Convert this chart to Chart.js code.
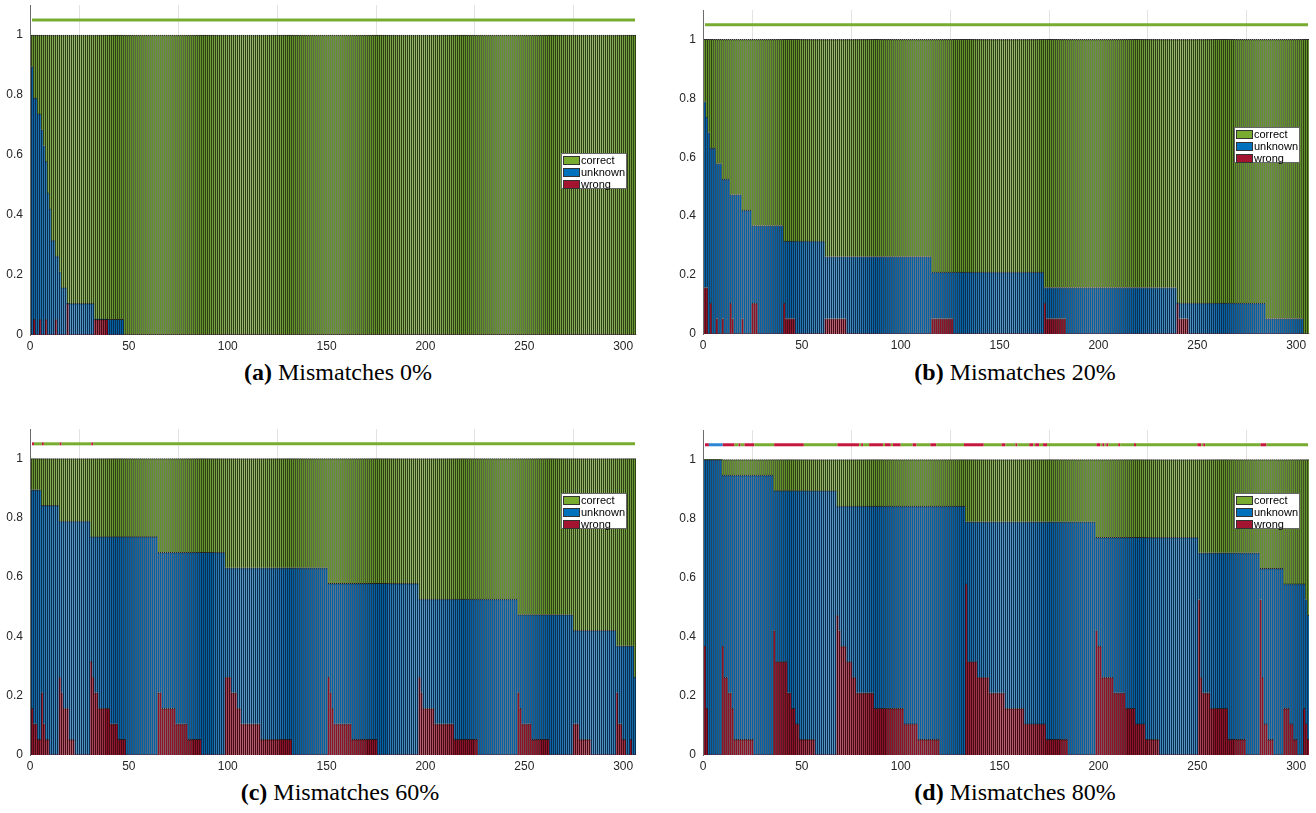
<!DOCTYPE html>
<html><head><meta charset="utf-8">
<script src="https://cdn.jsdelivr.net/npm/chart.js@4.4.1/dist/chart.umd.min.js"></script>
<style>
html,body{margin:0;padding:0;background:#fff;}
body{width:1316px;height:813px;position:relative;overflow:hidden;font-family:"Liberation Sans",Arial,sans-serif;}
.panel{position:absolute;}
.legend{position:absolute;background:#fff;border:1px solid #666;width:64px;height:34px;box-sizing:content-box;font:11px "Liberation Sans",Arial,sans-serif;color:#000;}
.legend .row{height:12px;line-height:12px;white-space:nowrap;display:flex;align-items:center;}
.legend .sw{display:inline-block;width:15px;height:7px;border:1px solid #333;margin:0 1px 0 1px;}
.caption{position:absolute;font-family:"Liberation Serif","Times New Roman",serif;font-size:24px;line-height:24px;color:#000;white-space:nowrap;transform:translateX(-50%);}
.caption b{font-weight:bold;}
</style></head><body>
<script>
// ---------------- DATA (values in units of 1/19) ----------------
const levelsPerUnit = 19;
const barCount = 306;
const seriesNames = ['correct', 'unknown', 'wrong'];
const xTicks = [0, 50, 100, 150, 200, 250, 300];
const yTicks = [0, 0.2, 0.4, 0.6, 0.8, 1];
const stripLevel = 1.05;
const captionTags = ['(a)', '(b)', '(c)', '(d)'];
const captionTexts = ['Mismatches 0%', 'Mismatches 20%', 'Mismatches 60%', 'Mismatches 80%'];

// runs: [number of bars, level]; "nonCorrect" = wrong + unknown (top of blue), "wrong" = red part
const nonCorrectA = [[1,17],[2,15],[2,14],[1,13],[1,12],[1,11],[1,9],[1,8],[2,6],[2,5],[1,4],[3,3],[14,2],[15,1],[259,0]];
const wrongA = [[1,0],[1,1],[2,0],[1,1],[2,0],[1,1],[4,0],[1,1],[5,0],[1,2],[13,0],[7,1],[267,0]];
const stripA = [[306,0]];

const nonCorrectB = [[1,15],[1,14],[1,13],[3,12],[3,11],[4,10],[6,9],[5,8],[16,7],[21,6],[54,5],[57,4],[67,3],[45,2],[19,1],[3,0]];
const wrongB = [[2,3],[1,0],[1,2],[2,0],[1,1],[2,0],[1,1],[3,0],[1,2],[1,1],[4,0],[1,1],[4,0],[3,2],[13,0],[1,2],[5,1],[15,0],[11,1],[43,0],[11,1],[46,0],[1,2],[10,1],[56,0],[1,2],[5,1],[61,0]];
const stripB = [[306,0]];

const nonCorrectC = [[5,17],[9,16],[16,15],[34,14],[34,13],[52,12],[46,11],[50,10],[28,9],[22,8],[9,7],[1,5]];
const wrongC = [[1,3],[2,2],[2,1],[1,4],[1,2],[2,1],[5,0],[1,5],[1,4],[3,3],[3,1],[8,0],[1,6],[1,5],[2,4],[6,3],[4,2],[4,1],[16,0],[2,4],[7,3],[6,2],[7,1],[12,0],[3,5],[3,4],[2,3],[10,2],[16,1],[18,0],[1,5],[1,4],[1,3],[9,2],[13,1],[21,0],[1,5],[1,4],[6,3],[10,2],[12,1],[20,0],[1,4],[1,3],[5,2],[9,1],[12,0],[3,2],[6,1],[13,0],[1,4],[2,2],[2,1],[2,0],[1,1],[2,0]];
const stripC = [[1,1],[4,0],[1,1],[8,0],[1,1],[15,0],[1,1],[275,0]];

const nonCorrectD = [[9,19],[26,18],[32,17],[65,16],[66,15],[52,14],[31,13],[12,12],[11,11],[1,10],[1,9]];
const wrongD = [[1,7],[1,3],[7,0],[1,7],[2,5],[2,4],[1,3],[10,1],[10,0],[1,8],[6,6],[2,4],[2,3],[2,2],[8,1],[11,0],[1,9],[1,8],[3,7],[3,6],[2,5],[9,4],[15,3],[7,2],[11,1],[13,0],[1,11],[5,6],[6,5],[8,4],[10,3],[11,2],[11,1],[14,0],[1,8],[2,7],[6,5],[6,4],[5,3],[5,2],[7,1],[20,0],[1,10],[1,5],[4,4],[9,3],[9,1],[7,0],[1,10],[1,5],[2,2],[3,1],[5,0],[3,3],[2,2],[2,1],[3,0],[1,3],[1,2],[1,1]];
// strip codes: 0 correct(green), 1 wrong(red), 2 unknown(blue)
const stripD = [[2,1],[7,2],[6,1],[2,0],[1,1],[2,0],[5,1],[10,0],[15,1],[17,0],[11,1],[1,0],[1,1],[3,0],[7,1],[1,0],[3,1],[1,0],[4,1],[6,0],[2,1],[7,0],[3,1],[14,0],[10,1],[9,0],[2,1],[5,0],[1,1],[6,0],[2,1],[1,0],[2,1],[2,0],[2,1],[25,0],[2,1],[1,0],[1,1],[1,0],[1,1],[5,0],[1,1],[7,0],[1,1],[31,0],[2,1],[1,0],[1,1],[28,0],[3,1],[22,0]];

// ---------------- STYLE / LAYOUT ----------------
const COLORS = {correct:'#77AC30', unknown:'#0072BD', wrong:'#A2142F'};
// bar face / dark bar-edge shades used inside the plot (thin black edges of ~2px-wide bars)
const FACE = {correct:'#64922A', unknown:'#0562A3', wrong:'#8C122A'};
const EDGE = {correct:'#2D4014', unknown:'#0A2E51', wrong:'#460A14'};
const stripColors = ['#77AC30', '#C4173F', '#2D86D1'];
const categories = Array.from({length: barCount}, (_, i) => i + 1);
const X_MIN = 0, X_MAX = 307, Y_MAX = 1.1;
const AXIS_W = 30;

function expand(runs){ const out = []; runs.forEach(([n, v]) => { for (let i = 0; i < n; i++) out.push(v); }); return out; }

// 2-px period stripe fill (face / edge), phase locked to page columns
function edgePattern(ctx, face, edge, pageLeft){
  const c = document.createElement('canvas'); c.width = 2; c.height = 1;
  const g = c.getContext('2d');
  const odd = pageLeft % 2;
  g.fillStyle = odd ? edge : face; g.fillRect(0, 0, 1, 1);
  g.fillStyle = odd ? face : edge; g.fillRect(1, 0, 1, 1);
  return ctx.createPattern(c, 'repeat');
}

const panels = [
  {nc: nonCorrectA, wr: wrongA, st: stripA, left:0,   top:0,   w:645, h:352, pad:{top:5, right:8, left:0, bottom:0},  xh:17, lg:[561,153],  cap:[338,360]},
  {nc: nonCorrectB, wr: wrongB, st: stripB, left:673, top:0,   w:643, h:352, pad:{top:10,right:6, left:0, bottom:0},  xh:18, lg:[1234,127], cap:[1015,360]},
  {nc: nonCorrectC, wr: wrongC, st: stripC, left:0,   top:420, w:645, h:352, pad:{top:9, right:8, left:0, bottom:0},  xh:17, lg:[561,493],  cap:[340,780]},
  {nc: nonCorrectD, wr: wrongD, st: stripD, left:673, top:420, w:643, h:352, pad:{top:10,right:6, left:0, bottom:0},  xh:17, lg:[1234,493], cap:[1015,780]},
];

const tickFont = {family:'"Liberation Sans", Arial, sans-serif', size:12};

panels.forEach((p, k) => {
  const div = document.createElement('div');
  div.className = 'panel';
  div.style.left = p.left + 'px'; div.style.top = p.top + 'px';
  div.style.width = p.w + 'px'; div.style.height = p.h + 'px';
  const cv = document.createElement('canvas');
  cv.width = p.w; cv.height = p.h;
  cv.style.width = p.w + 'px'; cv.style.height = p.h + 'px';
  div.appendChild(cv);
  document.body.appendChild(div);
  const ctx = cv.getContext('2d');

  const t = expand(p.nc), w = expand(p.wr), s = expand(p.st);
  const wrong = w.map(v => v / levelsPerUnit);
  const unknown = t.map((v, i) => (v - w[i]) / levelsPerUnit);
  const correct = t.map(v => (levelsPerUnit - v) / levelsPerUnit);

  const barOpts = {stack:'s', borderColor:'rgba(0,0,0,0.85)', borderWidth:{top:1, right:0, bottom:0, left:0},
                   borderSkipped:'start', categoryPercentage:1, barPercentage:1};
  const fill = name => edgePattern(ctx, FACE[name], EDGE[name], p.left);

  new Chart(cv, {
    type:'bar',
    data:{
      labels: categories,
      datasets:[
        Object.assign({label:'wrong', data:wrong, backgroundColor:fill('wrong')}, barOpts),
        Object.assign({label:'unknown', data:unknown, backgroundColor:fill('unknown')}, barOpts),
        Object.assign({label:'correct', data:correct, backgroundColor:fill('correct')}, barOpts),
        {type:'line', label:'strip', data: categories.map(() => stripLevel), yAxisID:'y2', order:-1,
         borderWidth:3, pointRadius:0, tension:0, borderCapStyle:'butt', borderColor:stripColors[0],
         segment:{borderColor: c => stripColors[s[c.p0DataIndex]]}}
      ]
    },
    options:{
      responsive:false, animation:false, devicePixelRatio:1,
      layout:{padding:p.pad},
      plugins:{legend:{display:false}, tooltip:{enabled:false}},
      scales:{
        x:{type:'linear', min:X_MIN, max:X_MAX, offset:false,
           grid:{color:'#e2e2e2', drawTicks:false, lineWidth:1},
           border:{display:false},
           ticks:{font:tickFont, color:'#262626', padding:4, maxRotation:0, callback:v => String(v)},
           afterBuildTicks: sc => { sc.ticks = xTicks.map(v => ({value:v})); },
           afterFit: sc => { sc.height = p.xh; sc.paddingLeft = 0; sc.paddingRight = 0; }},
        y:{min:0, max:Y_MAX, stacked:true,
           grid:{display:false, drawTicks:false},
           border:{display:true, color:'#6b6b6b', width:1},
           ticks:{font:tickFont, color:'#262626', padding:7, callback:v => String(Math.round(v*10)/10)},
           afterBuildTicks: sc => { sc.ticks = yTicks.map(v => ({value:v})); },
           afterFit: sc => { sc.width = AXIS_W; sc.paddingTop = 0; sc.paddingBottom = 0; }},
        y2:{display:false, min:0, max:Y_MAX}
      }
    }
  });

  // legend box
  const lg = document.createElement('div');
  lg.className = 'legend';
  lg.style.left = p.lg[0] + 'px'; lg.style.top = p.lg[1] + 'px';
  seriesNames.forEach(name => {
    const row = document.createElement('div'); row.className = 'row';
    const sw = document.createElement('span'); sw.className = 'sw'; sw.style.background = COLORS[name];
    row.appendChild(sw); row.appendChild(document.createTextNode(name));
    lg.appendChild(row);
  });
  document.body.appendChild(lg);

  // caption
  const cap = document.createElement('div');
  cap.className = 'caption';
  cap.style.left = p.cap[0] + 'px'; cap.style.top = p.cap[1] + 'px';
  const b = document.createElement('b'); b.textContent = captionTags[k];
  cap.appendChild(b); cap.appendChild(document.createTextNode(' ' + captionTexts[k]));
  document.body.appendChild(cap);
});
</script>
</body></html>
